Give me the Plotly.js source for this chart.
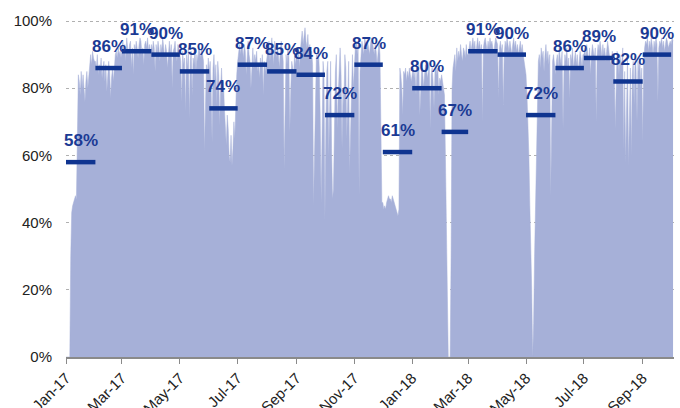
<!DOCTYPE html>
<html>
<head>
<meta charset="utf-8">
<script src="https://cdn.plot.ly/plotly-3.0.1.min.js"></script>
<style>html,body{margin:0;padding:0;background:#fff;}#chart{width:680px;height:408px;}</style>
</head>
<body>
<div id="chart"></div>
<script>
// Daily values (%) per month, starting 2017-01-01
const jan17 = [0,0,0,0,0,30,43,45,46,47,48,47,72,84,82,78,85,80,84,79,76,82,85,80,84,88,90,87,91,89,88];
const feb17 = [88,86,90,84,87,85,89,83,86,88,82,87,79,84,88,85,77,83,86,82,88,90,91,89,92,90,91,89];
const mar17 = [92,94,91,93,88,95,92,90,93,94,86,92,84,93,91,94,92,89,93,95,94,90,92,87,93,94,92,95,91,93,90];
const apr17 = [93,91,94,92,85,93,90,94,92,88,93,91,95,92,89,93,91,86,92,94,90,93,80,91,92,94,90,88,93,92];
const may17 = [90,88,76,91,87,89,73,90,86,92,71,88,91,78,89,87,92,85,90,88,93,91,89,92,90,88,61,80,87,84,89];
const jun17 = [85,88,80,64,86,90,82,87,75,88,84,69,80,86,78,82,74,70,63,72,68,60,58,66,57,62,70,65,78,84];
const jul17 = [88,91,93,90,94,92,89,93,91,84,92,94,90,88,80,89,92,86,90,88,91,85,87,83,89,86,90,78,88,85,87];
const aug17 = [90,92,94,88,93,95,91,87,94,92,89,93,90,86,92,94,91,88,56,84,90,87,92,89,67,80,88,86,84,90,87];
const sep17 = [90,88,92,86,91,95,97,93,96,98,94,92,96,90,93,88,91,87,45,62,85,90,88,92,86,72,46,80,88,84];
const oct17 = [41,70,85,88,60,75,88,62,47,50,72,85,90,68,78,88,92,84,62,80,75,90,86,65,78,88,55,70,84,90,80];
const nov17 = [88,92,94,90,93,48,85,91,94,92,90,95,93,91,94,92,90,93,95,94,92,90,93,91,87,92,94,90,60,46];
const dec17 = [46,44,45,44,46,47,48,47,47,46,48,47,46,45,44,43,42,44,86,84,80,72,85,84,86,82,85,83,86,84,82];
const jan18 = [84,86,83,85,78,86,84,87,72,83,86,85,80,84,87,86,83,85,88,68,84,86,82,74,85,87,84,86,78,83,82];
const feb18 = [84,82,80,78,60,43,20,0,0,0,30,80,86,88,90,85,92,88,91,89,93,90,88,92,91,89,93,90];
const mar18 = [90,92,94,91,93,95,92,94,90,93,95,92,94,91,93,70,92,94,95,93,91,94,92,95,93,94,92,90,93,95,94];
const apr18 = [93,77,92,94,91,93,75,90,94,92,95,93,91,94,92,90,93,95,92,94,91,93,90,92,94,91,93,90,88,86];
const may18 = [84,78,70,60,45,35,20,0,10,30,45,68,82,88,90,86,92,89,91,85,90,93,88,91,87,90,48,80,88,90,86];
const jun18 = [84,88,90,86,92,89,87,91,68,85,90,88,92,86,89,77,90,88,92,86,89,91,87,90,85,88,91,89,86,90];
const jul18 = [90,92,89,93,91,88,92,84,90,93,91,89,92,70,90,93,91,94,92,89,93,90,92,88,91,94,92,90,87,89,91];
const aug18 = [88,90,68,86,91,89,84,90,87,88,92,62,85,58,78,90,57,72,86,60,84,88,75,90,86,70,88,85,89,80,86];
const sep18 = [64,88,92,94,93,95,91,94,92,95,93,90,94,92,95,93,76,92,94,93,95,92,94,91,93,95,94,92,93,94];
const oct18 = [93,95,94];

// Monthly averages (%)
const monthStarts = ['2017-01-01','2017-02-01','2017-03-01','2017-04-01','2017-05-01','2017-06-01','2017-07-01',
  '2017-08-01','2017-09-01','2017-10-01','2017-11-01','2017-12-01','2018-01-01','2018-02-01','2018-03-01',
  '2018-04-01','2018-05-01','2018-06-01','2018-07-01','2018-08-01','2018-09-01','2018-10-01'];
const monthlyAvg = [58,86,91,90,85,74,87,85,84,72,87,61,80,67,91,90,72,86,89,82,90];

// Axis ticks
const tickDates = ['2017-01-01','2017-03-01','2017-05-01','2017-07-01','2017-09-01','2017-11-01',
  '2018-01-01','2018-03-01','2018-05-01','2018-07-01','2018-09-01'];
const tickLabels = ['Jan-17','Mar-17','May-17','Jul-17','Sep-17','Nov-17','Jan-18','Mar-18','May-18','Jul-18','Sep-18'];
const yTicks = [0,20,40,60,80,100];
const yTickLabels = ['0%','20%','40%','60%','80%','100%'];

const daily = [].concat(jan17,feb17,mar17,apr17,may17,jun17,jul17,aug17,sep17,oct17,nov17,dec17,
  jan18,feb18,mar18,apr18,may18,jun18,jul18,aug18,sep18,oct18);
const DAY = 86400000;
const t0 = Date.UTC(2017,0,1);
const dates = daily.map((v,i) => new Date(t0 + i*DAY).toISOString().slice(0,10));

function fmt(ms){ const s = new Date(ms).toISOString(); return s.slice(0,10)+' '+s.slice(11,16); }

const bx = [], by = [];
const annotations = [];
monthlyAvg.forEach((v,i) => {
  bx.push(monthStarts[i], monthStarts[i+1], null);
  by.push(v, v, null);
  const a = Date.parse(monthStarts[i]+'T00:00:00Z'), b = Date.parse(monthStarts[i+1]+'T00:00:00Z');
  annotations.push({
    x: fmt((a+b)/2), y: v, xref:'x', yref:'y', text: v+'%', showarrow:false,
    yanchor:'bottom', xanchor:'center', yshift: 10,
    font:{family:'Arial, "Liberation Sans", sans-serif', size:17, color:'#1b3a94', weight:'bold'}
  });
});

const traces = [
  {x: dates, y: daily, type:'scatter', mode:'lines', fill:'tozeroy',
   fillcolor:'rgb(166,176,216)', line:{color:'rgb(166,176,216)', width:0.5}, hoverinfo:'skip'},
  {x: bx, y: by, type:'scatter', mode:'lines', line:{color:'#0f3490', width:4.5}, connectgaps:false, hoverinfo:'skip'}
];

const layout = {
  width:680, height:408, showlegend:false,
  paper_bgcolor:'#fff', plot_bgcolor:'#fff',
  margin:{l:66, r:6, t:19, b:51},
  font:{family:'Arial, "Liberation Sans", sans-serif', color:'#222'},
  xaxis:{type:'date', range:['2017-01-01','2018-10-04'], tickvals:tickDates, ticktext:tickLabels,
    tickangle:-45, ticks:'outside', ticklen:5, tickcolor:'#8a8a8a', showline:true, linecolor:'#8a8a8a',
    linewidth:1.5, showgrid:false, zeroline:false, tickfont:{size:15, color:'#222'}},
  yaxis:{range:[0,100.6], tickmode:'array', tickvals:yTicks, ticktext:yTickLabels, showgrid:true, gridcolor:'#b0b0b0',
    griddash:'dot', gridwidth:1, zeroline:false, showline:false, ticks:'outside', ticklen:10,
    tickcolor:'rgba(0,0,0,0)', tickfont:{size:15, color:'#222'}},
  annotations: annotations
};

Plotly.newPlot('chart', traces, layout, {staticPlot:true, displayModeBar:false});
</script>
</body>
</html>
